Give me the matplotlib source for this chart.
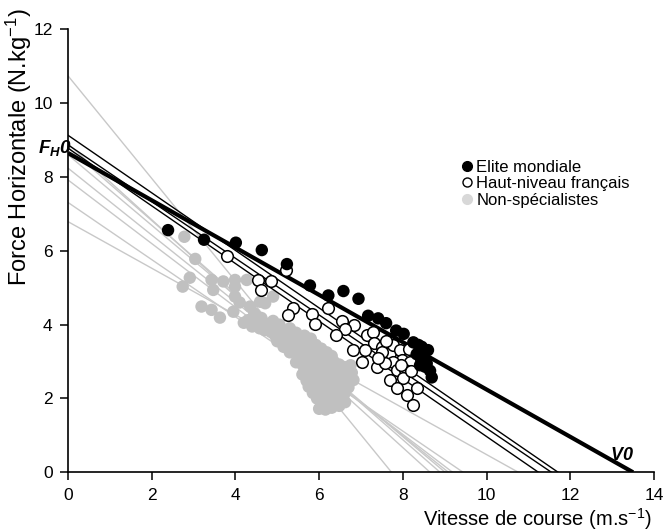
import matplotlib
matplotlib.use("Agg")
import matplotlib.pyplot as plt
from matplotlib.lines import Line2D

plt.rcParams['font.family'] = ['Liberation Sans', 'DejaVu Sans']
plt.rcParams['mathtext.fontset'] = 'custom'
plt.rcParams['mathtext.rm'] = 'Liberation Sans'
plt.rcParams['mathtext.it'] = 'Liberation Sans:italic'
plt.rcParams['mathtext.bf'] = 'Liberation Sans:bold'
plt.rcParams['mathtext.bfit'] = 'Liberation Sans:italic:bold'

# ---------------- data ----------------
elite_x = [2.39, 3.25, 4.01, 4.63, 5.23, 5.78, 6.22, 6.58, 6.94, 7.17, 7.41, 7.60,
           7.84, 8.02, 8.25, 8.37, 8.45, 8.60, 8.33, 8.49, 8.41, 8.57, 8.53, 8.65, 8.69]
elite_y = [6.56, 6.30, 6.22, 6.02, 5.64, 5.06, 4.79, 4.91, 4.70, 4.24, 4.17, 4.04,
           3.84, 3.75, 3.52, 3.45, 3.40, 3.31, 3.20, 3.13, 2.90, 2.95, 2.86, 2.75, 2.57]

haut_x = [3.81, 5.22, 4.53, 4.85, 4.61, 5.38, 5.26, 5.82, 5.89, 6.22, 6.54, 6.84,
          6.62, 6.41, 7.14, 7.29, 7.32, 6.81, 7.02, 7.10, 7.38, 7.49, 7.53, 7.69,
          7.77, 7.93, 7.97, 7.77, 8.17, 7.85, 8.05, 7.57, 7.69, 8.01, 7.85, 8.33,
          8.09, 8.25, 7.49, 7.95, 8.20, 7.60, 8.15, 7.40]
haut_y = [5.87, 5.48, 5.21, 5.18, 4.94, 4.44, 4.26, 4.30, 4.01, 4.44, 4.11, 3.99,
          3.89, 3.72, 3.72, 3.80, 3.50, 3.31, 3.00, 3.31, 2.84, 3.40, 3.04, 3.22,
          3.45, 3.30, 3.04, 3.00, 3.00, 2.78, 2.77, 2.95, 2.50, 2.55, 2.28, 2.29,
          2.09, 1.82, 3.25, 2.90, 2.75, 3.55, 3.35, 3.10]

nonspe_x = [2.78, 3.04, 2.91, 2.74, 3.43, 3.71, 3.99, 4.27, 3.47, 3.99, 3.99, 3.19,
            3.43, 3.63, 3.95, 4.35, 4.59, 4.71, 4.90, 4.10, 4.45, 4.20,
            4.30, 4.48, 4.62, 4.75, 4.90, 5.05, 4.40, 4.58,
            4.70, 4.85, 5.00, 5.15, 5.30, 5.45, 4.95, 5.12,
            5.00, 5.22, 5.35, 5.50, 5.65, 5.80, 5.28, 5.45, 5.60, 5.15,
            5.30, 5.48, 5.62, 5.78, 5.92, 6.05, 5.55, 5.70, 5.85, 6.00, 6.18, 6.30,
            5.45, 5.60, 5.75, 5.90, 6.05, 6.20, 6.35, 6.48, 5.65, 5.82, 6.00, 6.15,
            6.30, 6.45, 6.60,
            5.60, 5.75, 5.90, 6.05, 6.22, 6.38, 6.55, 6.68, 5.70, 5.88, 6.02, 6.18,
            6.32, 6.50, 6.65,
            5.75, 5.92, 6.08, 6.25, 6.40, 6.55, 6.70, 5.85, 6.00, 6.15, 6.30, 6.45, 6.60,
            5.95, 6.10, 6.25, 6.40, 6.55, 6.62, 6.05, 6.20, 6.35, 6.48,
            6.00, 6.15, 6.30, 6.78, 6.75, 6.82]
nonspe_y = [6.38, 5.78, 5.27, 5.03, 5.21, 5.17, 5.21, 5.21, 4.94, 5.03, 4.76, 4.49,
            4.40, 4.19, 4.35, 4.49, 4.62, 4.58, 4.76, 4.60, 4.30, 4.05,
            4.12, 4.05, 4.18, 4.02, 4.10, 4.00, 3.95, 3.90,
            3.85, 3.80, 3.88, 3.82, 3.90, 3.78, 3.70, 3.65,
            3.55, 3.58, 3.65, 3.60, 3.70, 3.62, 3.45, 3.42, 3.50, 3.40,
            3.25, 3.22, 3.30, 3.38, 3.45, 3.35, 3.10, 3.15, 3.20, 3.18, 3.25, 3.15,
            2.98, 2.92, 2.98, 3.02, 2.95, 3.05, 3.00, 2.92, 2.80, 2.85, 2.80, 2.85,
            2.80, 2.78, 2.85,
            2.65, 2.60, 2.68, 2.62, 2.68, 2.60, 2.65, 2.58, 2.48, 2.45, 2.50, 2.45,
            2.50, 2.45, 2.42,
            2.32, 2.28, 2.35, 2.30, 2.35, 2.28, 2.30, 2.15, 2.12, 2.18, 2.15, 2.20, 2.12,
            2.00, 1.95, 2.02, 1.98, 2.02, 1.90, 1.85, 1.82, 1.88, 1.80,
            1.72, 1.70, 1.75, 2.70, 2.90, 2.50]

# individual force-velocity lines (F0 intercept, V0 intercept)
gray_F0 = [10.74, 8.90, 8.80, 8.60, 8.24, 7.92, 7.31, 6.79]
gray_V0 = [7.73, 8.65, 8.89, 9.01, 9.09, 9.19, 9.44, 10.76]
black_F0 = [9.13, 8.87, 8.78]
black_V0 = [11.71, 11.55, 11.24]
mean_F0 = 8.65
mean_V0 = 13.5

xticks = [0, 2, 4, 6, 8, 10, 12, 14]
yticks = [0, 2, 4, 6, 8, 10, 12]

# ---------------- figure ----------------
fig = plt.figure(figsize=(6.68, 5.32), dpi=100)
ax = fig.add_axes([68/668, 1 - 472.3/532, (654-68)/668, (472.3-29.3)/532])

gray = '#c0c0c0'
for f0, v0 in zip(gray_F0, gray_V0):
    ax.plot([0, v0], [f0, 0], color='#c8c8c8', lw=1.0, zorder=1, solid_capstyle='butt')

ax.scatter(nonspe_x, nonspe_y, s=80, color=gray, edgecolors='none', zorder=2)

for f0, v0 in zip(black_F0, black_V0):
    ax.plot([0, v0], [f0, 0], color='black', lw=1.0, zorder=3)
ax.plot([0, mean_V0], [mean_F0, 0], color='black', lw=3.0, zorder=3, solid_capstyle='butt')

ax.scatter(haut_x, haut_y, s=70, facecolors='white', edgecolors='black', linewidths=1.1, zorder=4)
ax.scatter(elite_x, elite_y, s=80, color='black', edgecolors='none', zorder=5)

ax.set_xlim(0, 14)
ax.set_ylim(0, 12)
ax.set_xticks(xticks)
ax.set_yticks(yticks)
ax.spines['top'].set_visible(False)
ax.spines['right'].set_visible(False)
for s in ('left', 'bottom'):
    ax.spines[s].set_linewidth(1.2)
ax.tick_params(direction='out', length=6, width=1.1, labelsize=12.5, pad=5)

fig.text(19/668, 1 - 8/532, 'Force Horizontale (N.kg$^{\\mathregular{-1}}$)', rotation=90,
         ha='center', va='top', fontsize=17)
fig.text(652/668, 1 - 526/532, 'Vitesse de course (m.s$^{\\mathregular{-1}}$)',
         ha='right', va='baseline', fontsize=14.5)

fig.text(38/668, 1 - 148/532, r'$\mathbfit{F_H0}$', ha='left', va='center', fontsize=13.5)
fig.text(610/668, 1 - 456/532, r'$\mathbfit{V0}$', ha='left', va='center', fontsize=13)

handles = [
    Line2D([], [], marker='o', ls='none', color='black', markersize=7),
    Line2D([], [], marker='o', ls='none', markerfacecolor='white', markeredgecolor='black',
           markeredgewidth=1, markersize=6.5),
    Line2D([], [], marker='o', ls='none', color='#d8d8d8', markersize=7),
]
labels = ['Elite mondiale', 'Haut-niveau français', 'Non-spécialistes']
fig.legend(handles, labels, loc='upper left', bbox_to_anchor=(462/668, 1 - 160/532),
           frameon=False, fontsize=12, labelspacing=0.08, handlelength=0.6,
           handletextpad=0.25, borderpad=0, borderaxespad=0)

fig.savefig('out.png', dpi=100)
